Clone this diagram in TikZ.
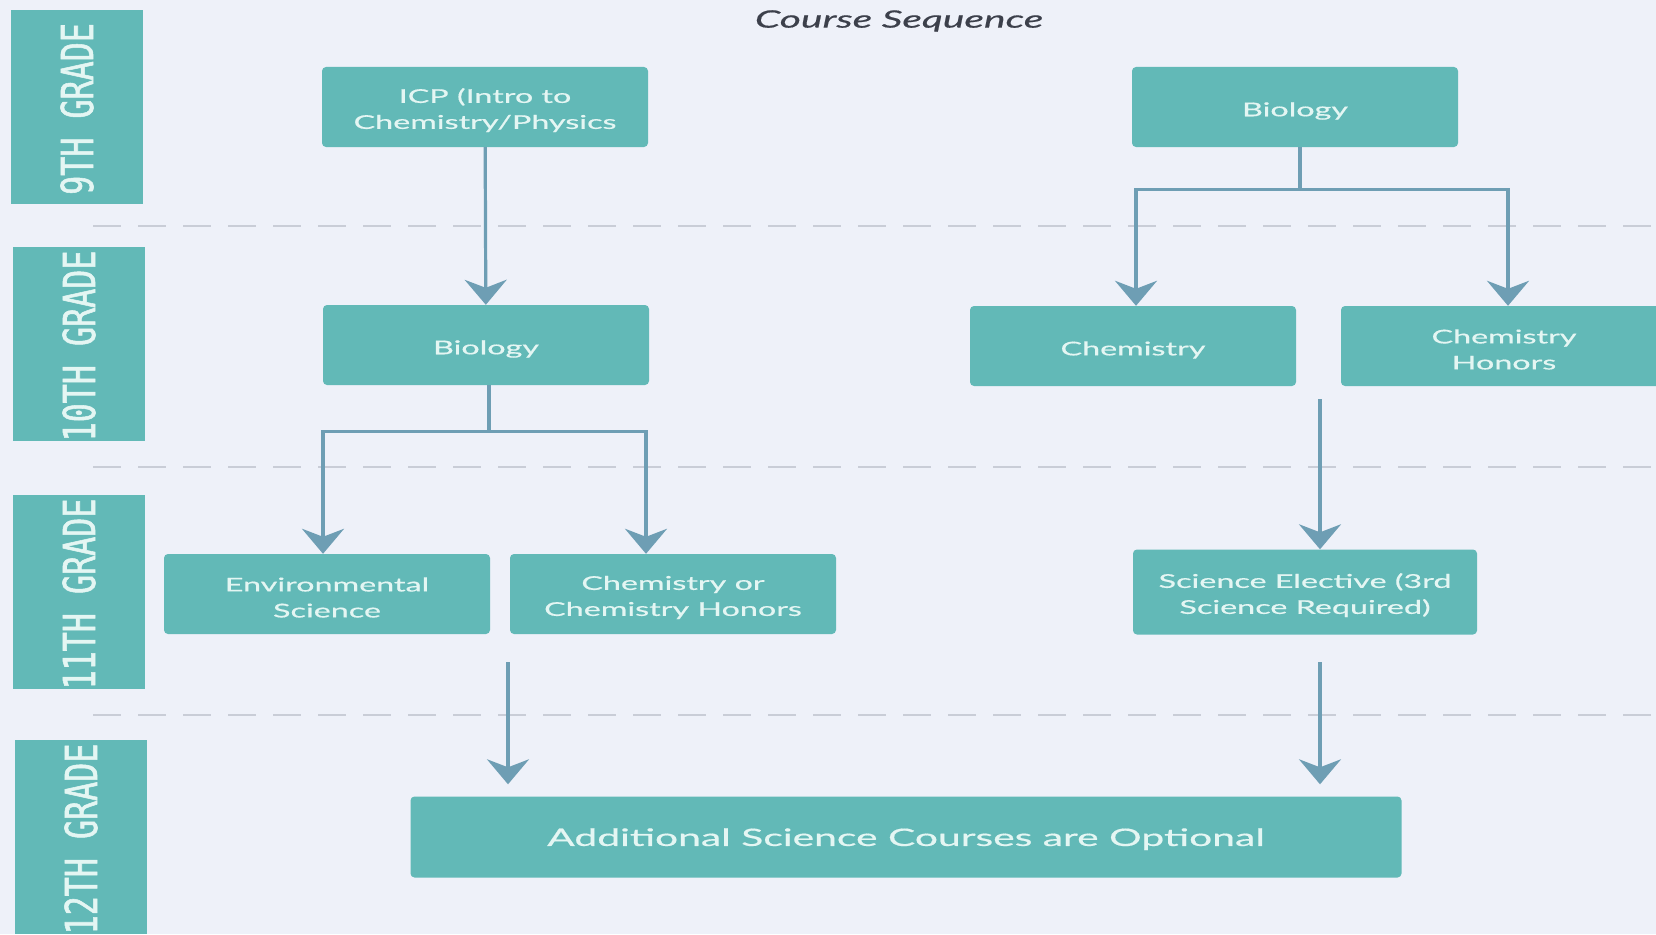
\documentclass[tikz,border=0pt]{standalone}
\usepackage{fontspec}
\setmainfont{Lato}[FakeStretch=1.7, FakeBold=0.6]
\newfontfamily\gradefont{DejaVu Sans Mono}[FakeStretch=0.72, FakeBold=1.2]
\usetikzlibrary{arrows.meta,calc}
\definecolor{pagebg}{HTML}{EEF1F9}
\definecolor{boxteal}{HTML}{62B9B7}
\definecolor{boxtext}{HTML}{E4F6F3}
\definecolor{flowblue}{HTML}{6E9EB4}
\definecolor{lanegray}{HTML}{C9CDD7}
\definecolor{titlegray}{HTML}{3C404B}
\newcommand{\lift}{\rule{0pt}{21pt}}
\tikzset{
    course/.style = {
        fill = boxteal,
        text = boxtext,
        rounded corners = 4pt,
        minimum width = 326pt,
        minimum height = 80pt,
        inner sep = 0pt,
        align = center,
        font = \fontsize{19}{26}\selectfont,
        execute at begin node = {\rule{0pt}{22pt}},
        },
    grade/.style = {
        fill = boxteal,
        minimum width = 132pt,
        minimum height = 194pt,
        inner sep = 0pt,
        path picture = {
            \node[rotate=90, text=boxtext, font=\gradefont\fontsize{44}{44}\selectfont]
                at ([yshift=-2pt] path picture bounding box.center) {#1};
            },
        },
    flow/.style = {
        draw = flowblue,
        line width = 3.2pt,
        -{Stealth[length=25pt, width=42pt, inset=8pt]},
        },
    lane/.style = {
        draw = lanegray,
        line width = 2pt,
        dash pattern = on 28pt off 17pt,
        },
}

\begin{document}
\begin{tikzpicture}[x=1pt, y=-1pt]
    \clip (0,0) rectangle (1656,934);
    \fill[pagebg] (0,0) rectangle (1656,934);

    % grade lanes
    \foreach \y in {226, 467, 715}
        \draw[lane] (93,\y) -- (1660,\y);

    \node[grade=9TH GRADE] (g9) at (77,107) {};
    \node[grade=10TH GRADE] (g10) at (79,344) {};
    \node[grade=11TH GRADE] (g11) at (79,592) {};
    \node[grade=12TH GRADE] (g12) at (81,837) {};

    \node[text=titlegray, font=\itshape\fontsize{24}{24}\selectfont] (title) at (899,21) {Course Sequence};

    % 9th grade
    \node[course] (icp) at (485,107) {\lift ICP (Intro to\\Chemistry/Physics};
    \node[course] (bio9) at (1295,107) {Biology};

    % 10th grade
    \node[course] (bio10) at (486,345) {Biology};
    \node[course] (chem) at (1133,346) {Chemistry};
    \node[course] (chemh) at (1504,346) {\lift Chemistry\\Honors};

    % 11th grade
    \node[course] (envsci) at (327,594) {\lift Environmental\\Science};
    \node[course] (chemor) at (673,594) {\lift Chemistry or\\Chemistry Honors};
    \node[course, minimum width=344pt, minimum height=85pt] (elective) at (1305,592) {\lift Science Elective (3rd\\Science Required)};

    % 12th grade
    \node[course, minimum width=991pt, minimum height=81pt, font=\fontsize{24}{30}\selectfont] (extra) at (906,837) {Additional Science Courses are Optional};

    \coordinate (gap) at (1320,399);
    \coordinate (leftdrop) at (508,662);
    \coordinate (rightdrop) at (1320,662);

    \draw[flow] (icp) -- (bio10);
    \draw[flow] ([xshift=5pt] bio9.south) -- ++(0,42) -| ([xshift=3pt] chem.north);
    \draw[flow] ([xshift=5pt] bio9.south) -- ++(0,42) -| ([xshift=4pt] chemh.north);
    \draw[flow] ([xshift=3pt] bio10.south) -- ++(0,46) -| ([xshift=-4pt] envsci.north);
    \draw[flow] ([xshift=3pt] bio10.south) -- ++(0,46) -| ([xshift=-27pt] chemor.north);
    \draw[flow] (gap) -- (gap |- elective.north);
    \draw[flow, shorten >=12pt] (leftdrop) -- (leftdrop |- extra.north);
    \draw[flow, shorten >=12pt] (rightdrop) -- (rightdrop |- extra.north);
\end{tikzpicture}
\end{document}
